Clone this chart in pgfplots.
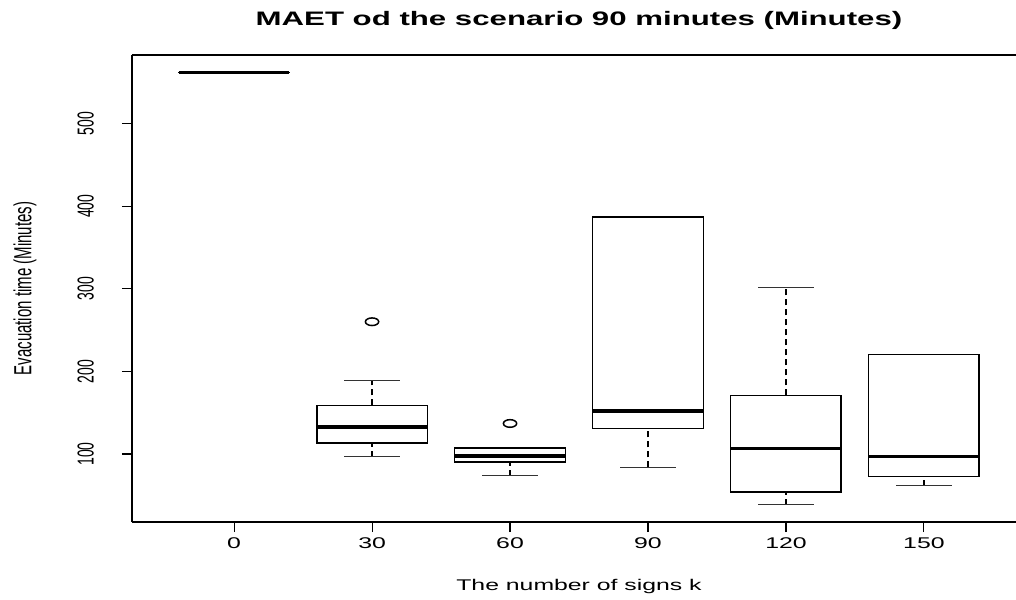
\documentclass[border=0pt]{standalone}
\usepackage{fontspec}
\setmainfont{Liberation Sans}
\usepackage{graphicx}
\usepackage{pgfplots}
\pgfplotsset{compat=1.18}
\usepgfplotslibrary{statistics}
\newcommand{\hs}[1]{\scalebox{1.6}[1]{#1}}
\newcommand{\vs}[1]{\scalebox{1}[1.65]{#1}}
\pgfplotsset{
  boxplot/draw direction=y,
  boxplot/box extend=0.8,
  boxplot/draw/box/.code={%
    \draw[line width=1.3pt, black]
      (boxplot box cs:\pgfplotsboxplotvalue{lower quartile},0)
      rectangle
      (boxplot box cs:\pgfplotsboxplotvalue{upper quartile},1);
  },
  boxplot/draw/median/.code={%
    \draw[line width=3.3pt, black]
      (boxplot box cs:\pgfplotsboxplotvalue{median},0)
      --
      (boxplot box cs:\pgfplotsboxplotvalue{median},1);
  },
  boxplot/draw/lower whisker/.code={%
    \draw[line width=1.2pt, black, dash pattern=on 6pt off 4pt]
      (boxplot box cs:\pgfplotsboxplotvalue{lower whisker},0.5)
      --
      (boxplot box cs:\pgfplotsboxplotvalue{lower quartile},0.5);
    \draw[line width=1pt, black!80]
      (boxplot box cs:\pgfplotsboxplotvalue{lower whisker},0.25)
      --
      (boxplot box cs:\pgfplotsboxplotvalue{lower whisker},0.75);
  },
  boxplot/draw/upper whisker/.code={%
    \draw[line width=1.2pt, black, dash pattern=on 6pt off 4pt]
      (boxplot box cs:\pgfplotsboxplotvalue{upper quartile},0.5)
      --
      (boxplot box cs:\pgfplotsboxplotvalue{upper whisker},0.5);
    \draw[line width=1pt, black!80]
      (boxplot box cs:\pgfplotsboxplotvalue{upper whisker},0.25)
      --
      (boxplot box cs:\pgfplotsboxplotvalue{upper whisker},0.75);
  },
}
\begin{document}
\begin{tikzpicture}
\begin{axis}[
  anchor=south west, at={(0pt,0pt)},
  scale only axis, width=884pt, height=467pt,
  xmin=-0.74, xmax=5.6675, ymin=17.7, ymax=583.2,
  axis x line*=box, axis y line*=left,
  axis line style={-, line width=1.3pt, black},
  every outer x axis line/.append style={-},
  every outer y axis line/.append style={-},
  xtick={0,1,2,3,4,5}, xticklabels={\hs{0},\hs{30},\hs{60},\hs{90},\hs{120},\hs{150}},
  ytick={100,200,300,400,500}, yticklabels={\vs{100},\vs{200},\vs{300},\vs{400},\vs{500}},
  tick align=outside, tick pos=left,
  major tick length=10pt,
  tick style={black, line width=1.1pt},
  xticklabel style={font=\fontsize{15.5}{18}\selectfont, anchor=north, inner ysep=5pt},
  yticklabel style={font=\fontsize{14}{16}\selectfont, xshift=-7pt, rotate=90, anchor=south, inner ysep=21pt},
  title={\hs{MAET od the scenario 90 minutes (Minutes)}},
  title style={at={(axis description cs:0.5,1.062)}, anchor=center, font=\bfseries\fontsize{19.5}{22}\selectfont, xshift=5pt},
  xlabel={\hs{The number of signs k}},
  xlabel style={at={(axis description cs:0.5,-0.1375)}, anchor=center, font=\fontsize{15.5}{18}\selectfont, xshift=5pt},
  ylabel={\vs{Evacuation time (Minutes)}},
  ylabel style={at={(axis description cs:-0.121,0.5)}, anchor=center, font=\fontsize{15}{18}\selectfont},
]
\addplot[black, boxplot prepared={draw position=0, lower whisker=561.8, lower quartile=561.9, median=562, upper quartile=562.1, upper whisker=562.2}]
  coordinates {};
\addplot[black, boxplot prepared={draw position=1, lower whisker=96.7, lower quartile=113.3, median=132.7, upper quartile=158.9, upper whisker=189.1}]
  coordinates {};
\addplot[black, boxplot prepared={draw position=2, lower whisker=73.7, lower quartile=90.3, median=97.6, upper quartile=107.3, upper whisker=107.4}]
  coordinates {};
\addplot[black, boxplot prepared={draw position=3, lower whisker=83.8, lower quartile=131, median=152, upper quartile=387, upper whisker=387.1}]
  coordinates {};
\addplot[black, boxplot prepared={draw position=4, lower whisker=38.6, lower quartile=54, median=106.4, upper quartile=171, upper whisker=301.4}]
  coordinates {};
\addplot[black, boxplot prepared={draw position=5, lower whisker=61.3, lower quartile=72.5, median=96.7, upper quartile=220.6, upper whisker=220.7}]
  coordinates {};
% outliers
\addplot[only marks, black, mark=o, mark size=3.8pt, mark options={solid, xscale=1.75, line width=1.5pt}]
  coordinates {(1,260.2) (2,137)};
\end{axis}
\pgfresetboundingbox
\path[use as bounding box] (-132pt,-77pt) rectangle (884pt,522pt);
\end{tikzpicture}
\end{document}
